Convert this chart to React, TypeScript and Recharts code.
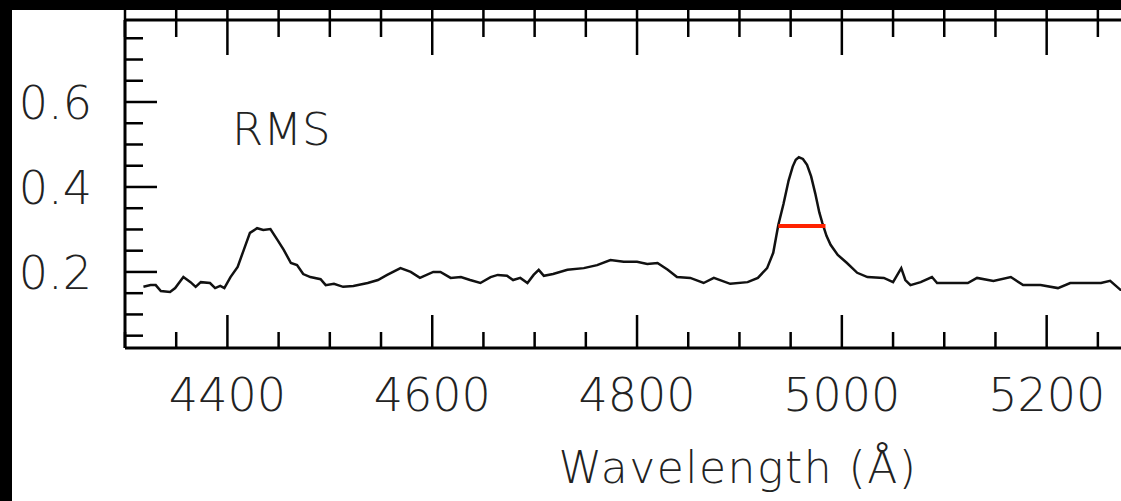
import React from "react";
import { LineChart, Line, XAxis, YAxis, ReferenceLine, Customized } from "recharts";

// RMS spectrum (wavelength in Å, flux)
const wavelength = [
  4318, 4325, 4330, 4335, 4344, 4349, 4357, 4364, 4369, 4374, 4383, 4388, 4393, 4397,
  4403, 4410, 4416, 4422, 4429, 4435, 4442, 4449, 4455, 4462, 4468, 4474, 4481, 4491,
  4496, 4504, 4513, 4523, 4537, 4547, 4556, 4569, 4579, 4588, 4601, 4608, 4618, 4628,
  4637, 4647, 4657, 4664, 4673, 4679, 4686, 4693, 4699, 4704, 4709, 4718, 4732, 4748,
  4761, 4774, 4787, 4800, 4810, 4820, 4830, 4839, 4852, 4865, 4875, 4891, 4908, 4918,
  4927, 4933, 4938, 4943, 4948, 4952, 4955, 4958, 4962, 4966, 4970, 4974, 4978, 4981,
  4985, 4989, 4996, 5005, 5015, 5025, 5041, 5050, 5058, 5062, 5067, 5077, 5088, 5093,
  5123, 5132, 5148, 5165, 5177, 5194, 5211, 5223, 5240, 5253, 5262, 5272, 5285,
];
const flux = [
  0.165, 0.169, 0.169, 0.155, 0.153, 0.162, 0.188, 0.176, 0.165, 0.176, 0.174, 0.162, 0.167, 0.162,
  0.188, 0.212, 0.252, 0.292, 0.303, 0.299, 0.301, 0.275, 0.252, 0.221, 0.216, 0.195, 0.188, 0.183,
  0.169, 0.172, 0.165, 0.167, 0.174, 0.181, 0.193, 0.209, 0.2, 0.186, 0.2, 0.2, 0.186, 0.188,
  0.181, 0.174, 0.188, 0.193, 0.191, 0.181, 0.186, 0.174, 0.193, 0.205, 0.191, 0.195, 0.205, 0.209,
  0.216, 0.228, 0.224, 0.224, 0.219, 0.221, 0.205, 0.188, 0.186, 0.174, 0.186, 0.172, 0.176, 0.186,
  0.209, 0.245, 0.311, 0.36, 0.415, 0.448, 0.464, 0.47, 0.466, 0.452, 0.425, 0.385, 0.34, 0.315,
  0.285, 0.264, 0.24, 0.221, 0.198, 0.188, 0.186, 0.176, 0.209, 0.181, 0.169, 0.176, 0.188, 0.174,
  0.174, 0.186, 0.179, 0.188, 0.169, 0.169, 0.162, 0.174, 0.174, 0.174, 0.179, 0.158, 0.162,
];

// FWHM bar on the [O III] line
const fwhmStart = 4938;
const fwhmEnd = 4984;
const fwhmLevel = 0.308;

const xTicks = [
  4300, 4350, 4400, 4450, 4500, 4550, 4600, 4650, 4700, 4750, 4800, 4850, 4900, 4950,
  5000, 5050, 5100, 5150, 5200, 5250, 5300, 5350,
];
const yTicks = [0.05, 0.1, 0.15, 0.2, 0.25, 0.3, 0.35, 0.4, 0.45, 0.5, 0.55, 0.6, 0.65, 0.7, 0.75];

const data = wavelength.map((w, i) => ({ w, f: flux[i] }));

const FONT = "'DejaVu Sans', Verdana, sans-serif";
const INK = "#000";

const BottomTick = (props: any) => {
  const { x, y, payload } = props;
  const major = payload.value % 200 === 0;
  return (
    <g>
      <line x1={x} x2={x} y1={y} y2={y - (major ? 33 : 16)} stroke={INK} strokeWidth={2.5} />
      {major && (
        <text x={x} y={y + 63} textAnchor="middle" fontFamily={FONT} fontSize={46} fontWeight={300} fill="#222">
          {payload.value}
        </text>
      )}
    </g>
  );
};

const TopTick = (props: any) => {
  const { x, y, payload } = props;
  const major = payload.value % 200 === 0;
  return <line x1={x} x2={x} y1={y - 10} y2={y + (major ? 35 : 17)} stroke={INK} strokeWidth={2.5} />;
};

const LeftTick = (props: any) => {
  const { x, y, payload } = props;
  const major = Math.round(payload.value * 100) % 20 === 0;
  return (
    <g>
      <line x1={x} x2={x + (major ? 32 : 18)} y1={y} y2={y} stroke={INK} strokeWidth={2.5} />
      {major && (
        <text x={x - 33} y={y} dy="0.36em" textAnchor="end" fontFamily={FONT} fontSize={46} fontWeight={300} fill="#222">
          {payload.value.toFixed(1)}
        </text>
      )}
    </g>
  );
};

const Labels = () => (
  <g>
    <text x={232} y={145} fontFamily={FONT} fontSize={45} fontWeight={300} fill="#222">
      RMS
    </text>
    <text x={738} y={483} textAnchor="middle" fontFamily={FONT} fontSize={44} fontWeight={300} letterSpacing={1.5} fill="#222">
      Wavelength (Å)
    </text>
  </g>
);

export default function App() {
  return (
    <div
      style={{
        position: "fixed",
        left: 0,
        top: 0,
        width: 1121,
        height: 501,
        overflow: "hidden",
        background: "#fff",
      }}
    >
      <div style={{ position: "absolute", left: 0, top: 0, width: 12, height: 501, background: "#000" }} />
      <div style={{ position: "absolute", left: 0, top: 0, width: 1121, height: 10, background: "#000", zIndex: 2 }} />
      <LineChart width={1231} height={501} data={data} margin={{ top: 19, right: 0, left: 0, bottom: 152 }}>
        <XAxis
          dataKey="w"
          type="number"
          domain={[4300, 5380]}
          ticks={xTicks}
          interval={0}
          allowDataOverflow
          height={1}
          tickSize={0}
          tickMargin={0}
          tickLine={false}
          axisLine={{ stroke: INK, strokeWidth: 3 }}
          tick={<BottomTick />}
        />
        <XAxis
          xAxisId="top"
          orientation="top"
          dataKey="w"
          type="number"
          domain={[4300, 5380]}
          ticks={xTicks}
          interval={0}
          allowDataOverflow
          height={1}
          tickSize={0}
          tickMargin={0}
          tickLine={false}
          axisLine={{ stroke: INK, strokeWidth: 3 }}
          tick={<TopTick />}
        />
        <YAxis
          type="number"
          domain={[0.021, 0.793]}
          ticks={yTicks}
          interval={0}
          allowDataOverflow
          width={125}
          tickSize={0}
          tickMargin={0}
          tickLine={false}
          axisLine={{ stroke: INK, strokeWidth: 3 }}
          tick={<LeftTick />}
        />
        <Line
          type="linear"
          dataKey="f"
          stroke="#111"
          strokeWidth={2.5}
          dot={false}
          isAnimationActive={false}
        />
        <ReferenceLine
          segment={[
            { x: fwhmStart, y: fwhmLevel },
            { x: fwhmEnd, y: fwhmLevel },
          ]}
          stroke="#ff2200"
          strokeWidth={4}
          ifOverflow="visible"
        />
        <Customized component={Labels} />
      </LineChart>
    </div>
  );
}
